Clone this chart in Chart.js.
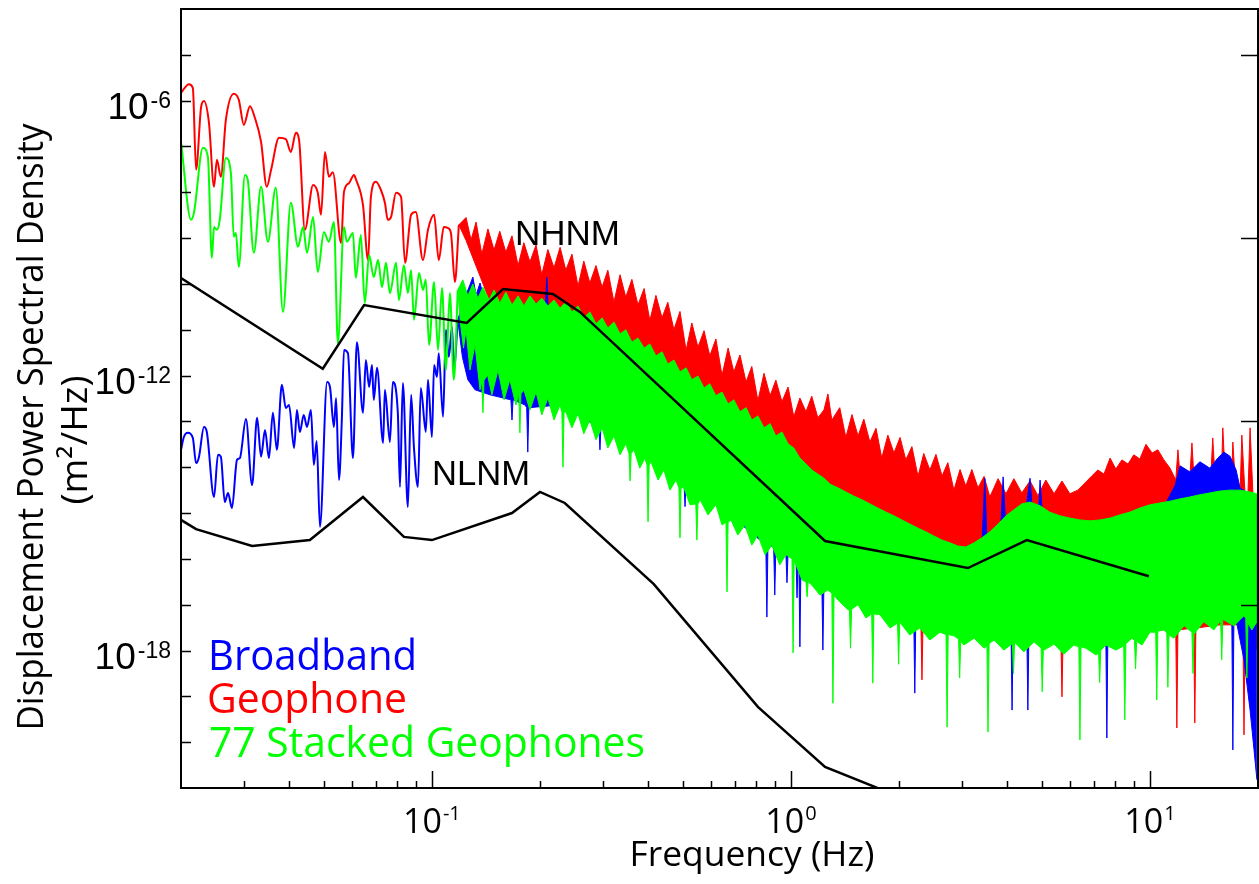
<!DOCTYPE html>
<html>
<head>
<meta charset="utf-8">
<script src="https://cdn.jsdelivr.net/npm/chart.js@4.4.0/dist/chart.umd.min.js"></script>
<style>
  html, body { margin: 0; padding: 0; background: #fff; }
</style>
</head>
<body>
<canvas id="psdChart" width="1259" height="884"></canvas>
<script>
// values, stored as [log10(frequency Hz), log10(PSD m^2/Hz)]

const nhnm = [
  [-1.699, -9.87], [-1.304, -11.85], [-1.189, -10.46], [-0.903, -10.85], [-0.802, -10.11],
  [-0.663, -10.22], [-0.588, -10.61], [0.095, -15.61], [0.493, -16.20], [0.657, -15.59], [0.997, -16.38]
];

const nlnm = [
  [-1.699, -15.15], [-1.657, -15.35], [-1.501, -15.72], [-1.340, -15.59], [-1.192, -14.65],
  [-1.078, -15.52], [-1.000, -15.59], [-0.777, -15.00], [-0.699, -14.54], [-0.630, -14.78],
  [-0.382, -16.55], [-0.092, -19.23], [0.095, -20.54], [0.254, -21.04], [0.400, -21.50]
];

// single geophone: resolved low-frequency line, then the upper / lower edges of the noise band
const geophoneLow = [
  [-1.699, -5.83], [-1.677, -5.64], [-1.666, -5.72], [-1.657, -7.51], [-1.643, -6.14], [-1.635, -6.01],
  [-1.621, -6.49], [-1.607, -7.88], [-1.599, -7.29], [-1.588, -7.66], [-1.574, -6.42], [-1.552, -5.85],
  [-1.538, -5.98], [-1.524, -6.53], [-1.507, -6.12], [-1.493, -6.38], [-1.476, -6.90], [-1.460, -7.88],
  [-1.448, -7.51], [-1.426, -6.81], [-1.407, -6.84], [-1.393, -7.12], [-1.379, -6.70], [-1.370, -6.86],
  [-1.354, -8.82], [-1.331, -7.84], [-1.318, -8.01], [-1.309, -8.49], [-1.298, -7.12], [-1.287, -7.66],
  [-1.276, -7.56], [-1.253, -9.11], [-1.245, -7.99], [-1.231, -7.80], [-1.217, -7.62], [-1.212, -7.71],
  [-1.192, -8.28], [-1.178, -9.48], [-1.170, -8.10], [-1.156, -7.77], [-1.142, -7.95], [-1.131, -8.23],
  [-1.123, -8.60], [-1.114, -8.54], [-1.100, -8.01], [-1.086, -8.10], [-1.075, -9.54], [-1.058, -8.49],
  [-1.045, -8.43], [-1.025, -9.48], [-1.011, -8.82], [-0.994, -8.49], [-0.981, -9.48], [-0.967, -8.76],
  [-0.955, -8.78], [-0.947, -8.89], [-0.936, -9.96], [-0.925, -8.71]
];

const geophoneTop = [
  [-0.925, -8.71], [-0.905, -8.55], [-0.891, -9.04], [-0.877, -8.65], [-0.861, -9.35], [-0.844, -8.80],
  [-0.827, -9.26], [-0.811, -8.85], [-0.794, -9.31], [-0.777, -8.95], [-0.760, -9.60], [-0.744, -9.10],
  [-0.727, -9.52], [-0.710, -9.15], [-0.694, -9.80], [-0.677, -9.25], [-0.660, -9.65], [-0.643, -9.20],
  [-0.627, -9.70], [-0.610, -9.35], [-0.593, -10.05], [-0.577, -9.50], [-0.560, -9.98], [-0.543, -9.60],
  [-0.526, -10.07], [-0.510, -9.70], [-0.493, -10.40], [-0.476, -9.80], [-0.460, -10.29], [-0.443, -9.90],
  [-0.426, -10.46], [-0.409, -10.10], [-0.393, -10.80], [-0.376, -10.25], [-0.359, -10.74], [-0.343, -10.40],
  [-0.326, -11.00], [-0.309, -10.60], [-0.292, -11.45], [-0.276, -10.85], [-0.259, -11.38], [-0.242, -11.02],
  [-0.226, -11.57], [-0.209, -11.20], [-0.192, -12.00], [-0.175, -11.40], [-0.159, -11.92], [-0.142, -11.55],
  [-0.125, -12.14], [-0.109, -11.80], [-0.092, -12.55], [-0.075, -11.95], [-0.058, -12.44], [-0.042, -12.10],
  [-0.025, -12.57], [-0.008, -12.25], [0.008, -12.90], [0.025, -12.49], [0.042, -12.79], [0.058, -12.45],
  [0.075, -12.92], [0.092, -12.75], [0.103, -12.40], [0.114, -12.97], [0.136, -12.70], [0.153, -13.35],
  [0.170, -12.85], [0.187, -13.32], [0.203, -12.95], [0.220, -13.45], [0.237, -13.15], [0.253, -13.80],
  [0.270, -13.30], [0.287, -13.69], [0.304, -13.35], [0.320, -13.84], [0.337, -13.55], [0.354, -14.20],
  [0.370, -13.70], [0.387, -14.06], [0.404, -13.72], [0.421, -14.19], [0.437, -13.90], [0.454, -14.50],
  [0.471, -14.05], [0.487, -14.41], [0.504, -14.05], [0.521, -14.45], [0.538, -14.20], [0.554, -14.65],
  [0.577, -14.25], [0.599, -14.58], [0.621, -14.25], [0.643, -14.56], [0.666, -14.30], [0.688, -14.62],
  [0.710, -14.28], [0.733, -14.58], [0.755, -14.30], [0.777, -14.58], [0.799, -14.50], [0.822, -14.32],
  [0.838, -14.19], [0.855, -14.06], [0.872, -14.15], [0.889, -13.80], [0.905, -14.04], [0.922, -13.84],
  [0.939, -13.93], [0.955, -13.73], [0.972, -13.82], [0.989, -13.50], [1.006, -13.69], [1.022, -13.62],
  [1.039, -13.84], [1.056, -14.02], [1.072, -14.28], [1.078, -13.62], [1.086, -14.41], [1.109, -14.50],
  [1.117, -13.47], [1.125, -14.54], [1.167, -14.60], [1.175, -13.36], [1.184, -14.60], [1.198, -14.60],
  [1.203, -13.14], [1.212, -14.60], [1.226, -14.60], [1.231, -13.45], [1.240, -14.60], [1.251, -14.60],
  [1.256, -13.30], [1.265, -14.60], [1.273, -14.60], [1.279, -13.14], [1.287, -14.60], [1.298, -14.60]
];

const geophoneBottom = [
  [-0.925, -8.71], [-0.905, -9.05], [-0.885, -9.45], [-0.865, -9.85], [-0.845, -10.25], [-0.825, -10.60],
  [-0.811, -11.00], [-0.755, -11.22], [-0.685, -11.66], [-0.643, -11.88], [-0.560, -12.09], [-0.476, -12.53],
  [-0.393, -13.19], [-0.309, -13.84], [-0.226, -14.50], [-0.142, -15.04], [-0.058, -15.59], [0.025, -16.02],
  [0.136, -16.57], [0.248, -17.00], [0.359, -17.33], [0.362, -17.35], [0.365, -18.64], [0.368, -17.37],
  [0.471, -17.55], [0.582, -17.66], [0.694, -17.66], [0.752, -17.73], [0.755, -19.01], [0.758, -17.73],
  [0.861, -17.77], [0.944, -17.66], [1.028, -17.55], [1.072, -17.55], [1.075, -19.69], [1.078, -17.55],
  [1.122, -17.51], [1.125, -19.58], [1.128, -17.51], [1.195, -17.44], [1.251, -17.44], [1.259, -17.50],
  [1.262, -19.84], [1.265, -17.60], [1.273, -17.77], [1.298, -17.99]
];

// 77 stacked geophones
const stackedLow = [
  [-1.699, -6.90], [-1.671, -8.60], [-1.663, -8.45], [-1.638, -7.03], [-1.624, -7.23], [-1.613, -9.43],
  [-1.607, -8.76], [-1.599, -8.82], [-1.591, -8.60], [-1.574, -7.25], [-1.560, -7.58], [-1.552, -8.97],
  [-1.546, -8.89], [-1.538, -9.63], [-1.521, -7.62], [-1.513, -7.73], [-1.496, -9.32], [-1.476, -7.88],
  [-1.457, -9.08], [-1.435, -7.90], [-1.415, -10.61], [-1.393, -8.23], [-1.373, -9.19], [-1.359, -8.76],
  [-1.348, -9.32], [-1.331, -8.54], [-1.318, -9.74], [-1.301, -8.87], [-1.287, -9.08], [-1.273, -8.65],
  [-1.262, -11.29], [-1.245, -8.76], [-1.237, -9.08], [-1.220, -8.89], [-1.212, -9.87], [-1.198, -8.93],
  [-1.187, -10.42], [-1.175, -9.37], [-1.162, -9.85], [-1.150, -9.48], [-1.139, -10.07], [-1.128, -9.54],
  [-1.117, -10.20], [-1.100, -9.54], [-1.092, -10.35], [-1.078, -9.59], [-1.067, -10.20], [-1.058, -9.70],
  [-1.050, -10.78], [-1.036, -9.76], [-1.025, -10.13], [-1.017, -9.91], [-1.008, -11.33], [-0.994, -9.96],
  [-0.983, -11.44], [-0.972, -10.09], [-0.961, -11.88], [-0.950, -10.20], [-0.939, -12.09], [-0.928, -10.13]
];

const stackedTop = [
  [-0.928, -10.13], [-0.914, -9.91], [-0.900, -10.26], [-0.886, -10.00], [-0.872, -10.31], [-0.858, -10.07],
  [-0.841, -10.35], [-0.827, -10.13], [-0.811, -10.42], [-0.794, -10.18], [-0.777, -10.46], [-0.760, -10.26],
  [-0.744, -10.48], [-0.727, -10.26], [-0.710, -10.44], [-0.694, -10.31], [-0.677, -10.48], [-0.660, -10.35],
  [-0.643, -10.53], [-0.627, -10.39], [-0.610, -10.61], [-0.593, -10.48], [-0.577, -10.74], [-0.560, -10.61],
  [-0.543, -10.87], [-0.526, -10.74], [-0.510, -10.96], [-0.493, -10.83], [-0.476, -11.09], [-0.460, -11.00],
  [-0.443, -11.27], [-0.426, -11.18], [-0.409, -11.40], [-0.393, -11.31], [-0.376, -11.57], [-0.359, -11.48],
  [-0.343, -11.75], [-0.326, -11.66], [-0.309, -11.92], [-0.292, -11.83], [-0.276, -12.09], [-0.259, -12.01],
  [-0.242, -12.27], [-0.226, -12.18], [-0.209, -12.44], [-0.192, -12.36], [-0.175, -12.62], [-0.159, -12.53],
  [-0.142, -12.79], [-0.125, -12.70], [-0.109, -12.97], [-0.092, -12.88], [-0.075, -13.14], [-0.058, -13.05],
  [-0.042, -13.32], [-0.025, -13.23], [-0.008, -13.49], [0.008, -13.58], [0.025, -13.80], [0.042, -13.93],
  [0.058, -14.06], [0.075, -14.15], [0.092, -14.24], [0.109, -14.37], [0.131, -14.45], [0.153, -14.54],
  [0.175, -14.63], [0.198, -14.71], [0.220, -14.80], [0.242, -14.89], [0.265, -14.98], [0.287, -15.06],
  [0.309, -15.15], [0.331, -15.24], [0.354, -15.33], [0.376, -15.41], [0.398, -15.50], [0.421, -15.59],
  [0.443, -15.65], [0.465, -15.72], [0.487, -15.74], [0.510, -15.65], [0.532, -15.54], [0.554, -15.41],
  [0.577, -15.24], [0.599, -15.06], [0.621, -14.93], [0.643, -14.80], [0.666, -14.76], [0.694, -14.84],
  [0.721, -14.98], [0.749, -15.06], [0.777, -15.11], [0.805, -15.15], [0.833, -15.17], [0.861, -15.15],
  [0.889, -15.11], [0.916, -15.04], [0.944, -14.98], [0.972, -14.89], [1.000, -14.82], [1.028, -14.78],
  [1.056, -14.74], [1.084, -14.69], [1.111, -14.65], [1.139, -14.60], [1.167, -14.56], [1.195, -14.52],
  [1.223, -14.50], [1.251, -14.50], [1.279, -14.54], [1.298, -14.58]
];

const stackedBottom = [
  [-0.928, -10.13], [-0.920, -10.90], [-0.912, -11.40], [-0.905, -11.00], [-0.894, -11.88], [-0.880, -11.33],
  [-0.866, -12.31], [-0.861, -12.10], [-0.858, -12.81], [-0.855, -12.10], [-0.845, -11.99], [-0.833, -12.42],
  [-0.816, -11.88], [-0.799, -12.53], [-0.783, -12.09], [-0.766, -12.64], [-0.758, -12.40], [-0.755, -13.25],
  [-0.752, -12.40], [-0.744, -12.31], [-0.727, -12.75], [-0.710, -12.36], [-0.694, -12.86], [-0.677, -12.49],
  [-0.660, -12.97], [-0.643, -12.64], [-0.638, -12.80], [-0.635, -14.00], [-0.632, -12.80], [-0.627, -12.79],
  [-0.610, -13.14], [-0.593, -12.83], [-0.577, -13.27], [-0.560, -12.97], [-0.543, -13.40], [-0.526, -13.14],
  [-0.510, -13.58], [-0.493, -13.32], [-0.476, -13.73], [-0.460, -13.49], [-0.451, -13.70], [-0.448, -14.30],
  [-0.445, -13.70], [-0.437, -13.62], [-0.421, -14.02], [-0.407, -13.80], [-0.401, -13.95], [-0.398, -15.19],
  [-0.395, -13.95], [-0.390, -13.88], [-0.370, -14.28], [-0.354, -14.06], [-0.337, -14.50], [-0.320, -14.28],
  [-0.312, -14.45], [-0.309, -15.54], [-0.306, -14.45], [-0.298, -14.45], [-0.281, -14.82], [-0.265, -14.80],
  [-0.262, -15.59], [-0.259, -14.80], [-0.253, -14.71], [-0.231, -15.04], [-0.209, -14.82], [-0.192, -15.26],
  [-0.181, -15.20], [-0.178, -16.72], [-0.175, -15.20], [-0.167, -15.15], [-0.148, -15.48], [-0.128, -15.26],
  [-0.109, -15.70], [-0.092, -15.48], [-0.072, -15.91], [-0.053, -15.70], [-0.031, -16.13], [-0.014, -15.91],
  [0.003, -16.00], [0.006, -18.05], [0.009, -16.05], [0.014, -16.13], [0.031, -16.46], [0.042, -16.50],
  [0.045, -16.83], [0.048, -16.50], [0.058, -16.57], [0.081, -16.79], [0.103, -16.68], [0.114, -16.75],
  [0.117, -19.15], [0.120, -16.80], [0.131, -16.90], [0.159, -17.11], [0.163, -17.12], [0.166, -17.95],
  [0.169, -17.10], [0.187, -17.00], [0.209, -17.29], [0.225, -17.20], [0.228, -18.71], [0.231, -17.20],
  [0.248, -17.22], [0.276, -17.51], [0.297, -17.40], [0.300, -18.30], [0.303, -17.38], [0.331, -17.66],
  [0.359, -17.51], [0.387, -17.77], [0.415, -17.60], [0.432, -17.65], [0.435, -19.67], [0.438, -17.65],
  [0.454, -17.68], [0.467, -17.75], [0.470, -18.60], [0.473, -17.80], [0.482, -17.88], [0.510, -17.73],
  [0.538, -17.95], [0.546, -17.90], [0.549, -19.78], [0.552, -17.85], [0.566, -17.77], [0.593, -17.99],
  [0.617, -17.85], [0.620, -18.50], [0.623, -17.82], [0.649, -18.03], [0.677, -17.81], [0.697, -17.95],
  [0.700, -18.90], [0.703, -18.00], [0.733, -17.86], [0.760, -18.08], [0.788, -17.88], [0.802, -17.92],
  [0.805, -19.95], [0.808, -17.92], [0.822, -17.95], [0.850, -18.10], [0.857, -18.05], [0.860, -18.70],
  [0.863, -18.00], [0.877, -17.88], [0.905, -17.99], [0.927, -17.90], [0.930, -19.51], [0.933, -17.85],
  [0.950, -17.73], [0.957, -17.78], [0.960, -18.40], [0.963, -17.80], [0.978, -17.88], [1.000, -17.60],
  [1.016, -17.60], [1.019, -19.08], [1.022, -17.58], [1.039, -17.55], [1.047, -17.62], [1.050, -18.80],
  [1.053, -17.66], [1.067, -17.73], [1.095, -17.46], [1.117, -17.60], [1.120, -18.50], [1.123, -17.64],
  [1.150, -17.37], [1.178, -17.55], [1.197, -17.35], [1.200, -18.20], [1.203, -17.32], [1.234, -17.46],
  [1.262, -17.24], [1.267, -17.30], [1.270, -18.60], [1.273, -17.40], [1.284, -17.55], [1.298, -17.37]
];

// broadband seismometer
const broadbandLow = [
  [-1.699, -13.62], [-1.691, -13.34], [-1.680, -13.25], [-1.666, -13.36], [-1.657, -13.91], [-1.649, -13.78],
  [-1.635, -13.12], [-1.627, -13.23], [-1.607, -14.65], [-1.596, -13.73], [-1.588, -13.77], [-1.577, -14.76],
  [-1.568, -14.56], [-1.557, -14.89], [-1.543, -13.84], [-1.535, -13.80], [-1.518, -12.95], [-1.501, -14.39],
  [-1.487, -12.92], [-1.476, -13.77], [-1.465, -13.19], [-1.454, -13.80], [-1.443, -12.81], [-1.432, -13.62],
  [-1.418, -12.20], [-1.407, -12.71], [-1.398, -12.64], [-1.384, -13.58], [-1.376, -12.75], [-1.368, -13.23],
  [-1.357, -12.86], [-1.348, -13.12], [-1.337, -12.75], [-1.329, -13.95], [-1.321, -13.43], [-1.312, -15.30],
  [-1.292, -12.14], [-1.284, -12.25], [-1.273, -13.12], [-1.267, -12.49], [-1.259, -14.28], [-1.251, -12.97],
  [-1.245, -11.44], [-1.234, -11.51], [-1.220, -13.80], [-1.209, -11.27], [-1.192, -12.81], [-1.184, -11.66],
  [-1.175, -12.25], [-1.167, -11.77], [-1.162, -12.53], [-1.153, -11.83], [-1.136, -13.47], [-1.131, -12.31],
  [-1.117, -13.45], [-1.109, -12.14], [-1.095, -12.81], [-1.089, -14.43], [-1.081, -12.16], [-1.067, -14.87],
  [-1.058, -12.42], [-1.050, -13.58], [-1.039, -14.43], [-1.031, -12.27], [-1.017, -13.23], [-1.011, -12.09],
  [-1.000, -13.34], [-0.994, -11.77], [-0.986, -12.03], [-0.981, -11.51], [-0.969, -12.90], [-0.961, -11.00],
  [-0.953, -11.59], [-0.944, -10.94], [-0.939, -11.88], [-0.928, -10.78]
];

const broadbandTop = [
  [-0.928, -10.78], [-0.911, -10.35], [-0.894, -10.02], [-0.886, -9.85], [-0.877, -10.24], [-0.866, -9.98],
  [-0.850, -10.46], [-0.825, -10.57], [-0.797, -10.35], [-0.769, -10.57], [-0.727, -10.46], [-0.699, -10.57],
  [-0.684, -10.50], [-0.680, -9.85], [-0.676, -10.55], [-0.616, -10.74], [-0.532, -11.00], [-0.448, -11.33],
  [-0.365, -11.70], [-0.281, -12.20], [-0.198, -12.53], [-0.114, -13.08], [-0.031, -13.51], [0.053, -14.17],
  [0.164, -14.71], [0.304, -15.26], [0.443, -15.80], [0.513, -15.85], [0.532, -15.70], [0.540, -14.24],
  [0.546, -15.60], [0.585, -15.20], [0.591, -14.21], [0.597, -15.10], [0.655, -14.90], [0.666, -14.24],
  [0.672, -14.90], [0.690, -14.95], [0.694, -14.28], [0.700, -14.98], [0.760, -15.15], [0.860, -15.25],
  [0.916, -15.15], [0.972, -15.00], [1.040, -14.85], [1.070, -14.40], [1.084, -13.97], [1.111, -14.10],
  [1.139, -13.88], [1.167, -14.02], [1.189, -13.80], [1.206, -13.67], [1.223, -13.76], [1.240, -14.06],
  [1.251, -14.45], [1.279, -14.60], [1.298, -14.71]
];

const broadbandBottom = [
  [-0.928, -10.78], [-0.915, -11.60], [-0.900, -12.09], [-0.880, -12.31], [-0.838, -12.42], [-0.780, -12.53],
  [-0.777, -12.97], [-0.774, -12.53], [-0.741, -12.64], [-0.736, -12.70], [-0.733, -13.67], [-0.730, -12.70],
  [-0.643, -12.64], [-0.546, -13.08], [-0.535, -13.10], [-0.532, -13.62], [-0.529, -13.10], [-0.421, -13.62],
  [-0.309, -14.28], [-0.298, -14.30], [-0.295, -14.86], [-0.292, -14.32], [-0.170, -15.04], [-0.086, -15.59],
  [-0.070, -15.66], [-0.067, -17.27], [-0.064, -15.68], [-0.048, -15.75], [-0.045, -16.79], [-0.042, -15.78],
  [-0.014, -15.88], [-0.011, -16.52], [-0.008, -15.89], [0.014, -15.95], [0.017, -16.85], [0.020, -16.00],
  [0.022, -16.02], [0.025, -17.92], [0.028, -16.05], [0.081, -16.46], [0.086, -16.50], [0.089, -17.99],
  [0.092, -16.52], [0.220, -17.11], [0.342, -17.20], [0.345, -18.93], [0.348, -17.22], [0.613, -17.55],
  [0.616, -19.30], [0.619, -17.55], [0.657, -17.55], [0.660, -19.30], [0.663, -17.55], [0.877, -17.55],
  [0.880, -19.91], [0.883, -17.55], [1.228, -17.22], [1.231, -20.17], [1.234, -17.25], [1.240, -17.33],
  [1.262, -18.20], [1.279, -19.30], [1.290, -20.17], [1.298, -20.82]
];

// axis decoration (exponents / tick values)
const yLabelExps = [-6, -12, -18];
const xLabelExps = [-1, 0, 1];
const leftTickExps = [-5, -6, -7, -8, -9, -10, -11, -12, -13, -14, -15, -16, -17, -18, -19, -20];
const rightTickExps = [-5, -9, -13, -17];
const xMajorTicks = [0.1, 1, 10];
const xMinorTicks = [0.03, 0.04, 0.05, 0.06, 0.07, 0.08, 0.09, 0.2, 0.3, 0.4, 0.5, 0.6, 0.7, 0.8, 0.9,
  2, 3, 4, 5, 6, 7, 8, 9];

const BLUE = '#0000ff', RED = '#ff0000', GREEN = '#00ff00';

const toPts = (arr) => arr.map(([f, p]) => ({ x: 10 ** f, y: 10 ** p }));

function curve(data, color, order, width) {
  return {
    data: toPts(data), showLine: true, borderColor: color, borderWidth: width,
    pointRadius: 0, fill: false, order, cubicInterpolationMode: 'monotone'
  };
}

function model(data) {
  return {
    data: toPts(data), showLine: true, borderColor: '#000', borderWidth: 2.5,
    pointRadius: 0, fill: false, order: 0, tension: 0
  };
}

function edge(data, color, order, fillPrev) {
  return {
    data: toPts(data), showLine: true, borderColor: color, backgroundColor: color,
    borderWidth: 1, pointRadius: 0, tension: 0, order, fill: fillPrev ? '-1' : false
  };
}

function fitText(ctx, str, x, y, font, width, align) {
  ctx.font = font;
  const w = ctx.measureText(str).width;
  ctx.save();
  ctx.translate(x, y);
  ctx.scale(width / w, 1);
  ctx.textAlign = align;
  ctx.fillText(str, 0, 0);
  ctx.restore();
}

const decor = {
  id: 'decor',
  afterDraw(chart) {
    const { ctx, chartArea: a, scales: { x, y } } = chart;
    ctx.save();
    ctx.strokeStyle = '#000';
    ctx.fillStyle = '#000';

    // frame
    ctx.lineWidth = 2;
    ctx.strokeRect(a.left, a.top, a.right - a.left, a.bottom - a.top);

    // inward ticks
    ctx.lineWidth = 1.5;
    ctx.beginPath();
    leftTickExps.forEach(e => {
      const py = Math.round(y.getPixelForValue(10 ** e)) + 0.5;
      ctx.moveTo(a.left, py); ctx.lineTo(a.left + 10, py);
    });
    rightTickExps.forEach(e => {
      const py = Math.round(y.getPixelForValue(10 ** e)) + 0.5;
      ctx.moveTo(a.right, py); ctx.lineTo(a.right - 17, py);
    });
    xMinorTicks.forEach(v => {
      const px = Math.round(x.getPixelForValue(v)) + 0.5;
      ctx.moveTo(px, a.bottom); ctx.lineTo(px, a.bottom - 7);
    });
    xMajorTicks.forEach(v => {
      const px = Math.round(x.getPixelForValue(v)) + 0.5;
      ctx.moveTo(px, a.bottom); ctx.lineTo(px, a.bottom - 17);
    });
    ctx.stroke();

    // y tick labels
    ctx.textBaseline = 'alphabetic';
    ctx.textAlign = 'left';
    yLabelExps.forEach(e => {
      const py = y.getPixelForValue(10 ** e);
      const sup = '-' + Math.abs(e);
      ctx.font = '23px "Liberation Sans"';
      const sw = ctx.measureText(sup).width;
      ctx.fillText(sup, 171 - sw, py + 7);
      ctx.font = '37px "Liberation Sans"';
      const bw = ctx.measureText('10').width;
      ctx.fillText('10', 171 - sw - 2 - bw, py + 18);
    });

    // x tick labels
    xLabelExps.forEach(e => {
      const px = x.getPixelForValue(10 ** e);
      const sup = e < 0 ? '-' + Math.abs(e) : String(e);
      ctx.font = '34px "Open Sans"';
      const bw = ctx.measureText('10').width;
      ctx.font = '20px "Open Sans"';
      const sw = ctx.measureText(sup).width;
      const left = px - (bw + 1 + sw) / 2;
      ctx.fillText(sup, left + bw + 1, 820);
      ctx.font = '34px "Open Sans"';
      ctx.fillText('10', left, 833);
    });

    // axis titles
    fitText(ctx, 'Frequency (Hz)', 752, 866, '34px "Open Sans"', 245, 'center');
    ctx.save();
    ctx.translate(43, 427);
    ctx.rotate(-Math.PI / 2);
    fitText(ctx, 'Displacement Power Spectral Density', 0, 0, '36px "Open Sans"', 607, 'center');
    ctx.restore();
    ctx.save();
    ctx.translate(87, 440);
    ctx.rotate(-Math.PI / 2);
    fitText(ctx, '(m\u00b2/Hz)', 0, 0, '36px "Open Sans"', 129, 'center');
    ctx.restore();

    // noise model labels
    fitText(ctx, 'NHNM', 515, 245, '35px "Liberation Sans"', 105, 'left');
    fitText(ctx, 'NLNM', 432, 485, '35px "Liberation Sans"', 98, 'left');

    // legend text
    ctx.fillStyle = BLUE;
    fitText(ctx, 'Broadband', 208, 670, '42px "Open Sans"', 209, 'left');
    ctx.fillStyle = RED;
    fitText(ctx, 'Geophone', 207, 713, '42px "Open Sans"', 200, 'left');
    ctx.fillStyle = GREEN;
    fitText(ctx, '77 Stacked Geophones', 209, 757, '42px "Open Sans"', 436, 'left');

    ctx.restore();
  }
};

new Chart(document.getElementById('psdChart'), {
  type: 'scatter',
  data: {
    datasets: [
      model(nhnm),
      model(nlnm),
      curve(stackedLow, GREEN, 1, 2),
      edge(stackedTop, GREEN, 1, false),
      edge(stackedBottom, GREEN, 1, true),
      curve(broadbandLow, BLUE, 2, 2),
      edge(broadbandTop, BLUE, 2, false),
      edge(broadbandBottom, BLUE, 2, true),
      curve(geophoneLow, RED, 3, 2),
      edge(geophoneTop, RED, 3, false),
      edge(geophoneBottom, RED, 3, true)
    ]
  },
  options: {
    responsive: false,
    animation: false,
    layout: { padding: { left: 181, top: 9, right: 1, bottom: 96 } },
    scales: {
      x: { type: 'logarithmic', min: 0.02, max: 20, display: false },
      y: { type: 'logarithmic', min: 1e-21, max: 1e-4, display: false }
    },
    plugins: { legend: { display: false }, tooltip: { enabled: false } }
  },
  plugins: [decor]
});
</script>
</body>
</html>
